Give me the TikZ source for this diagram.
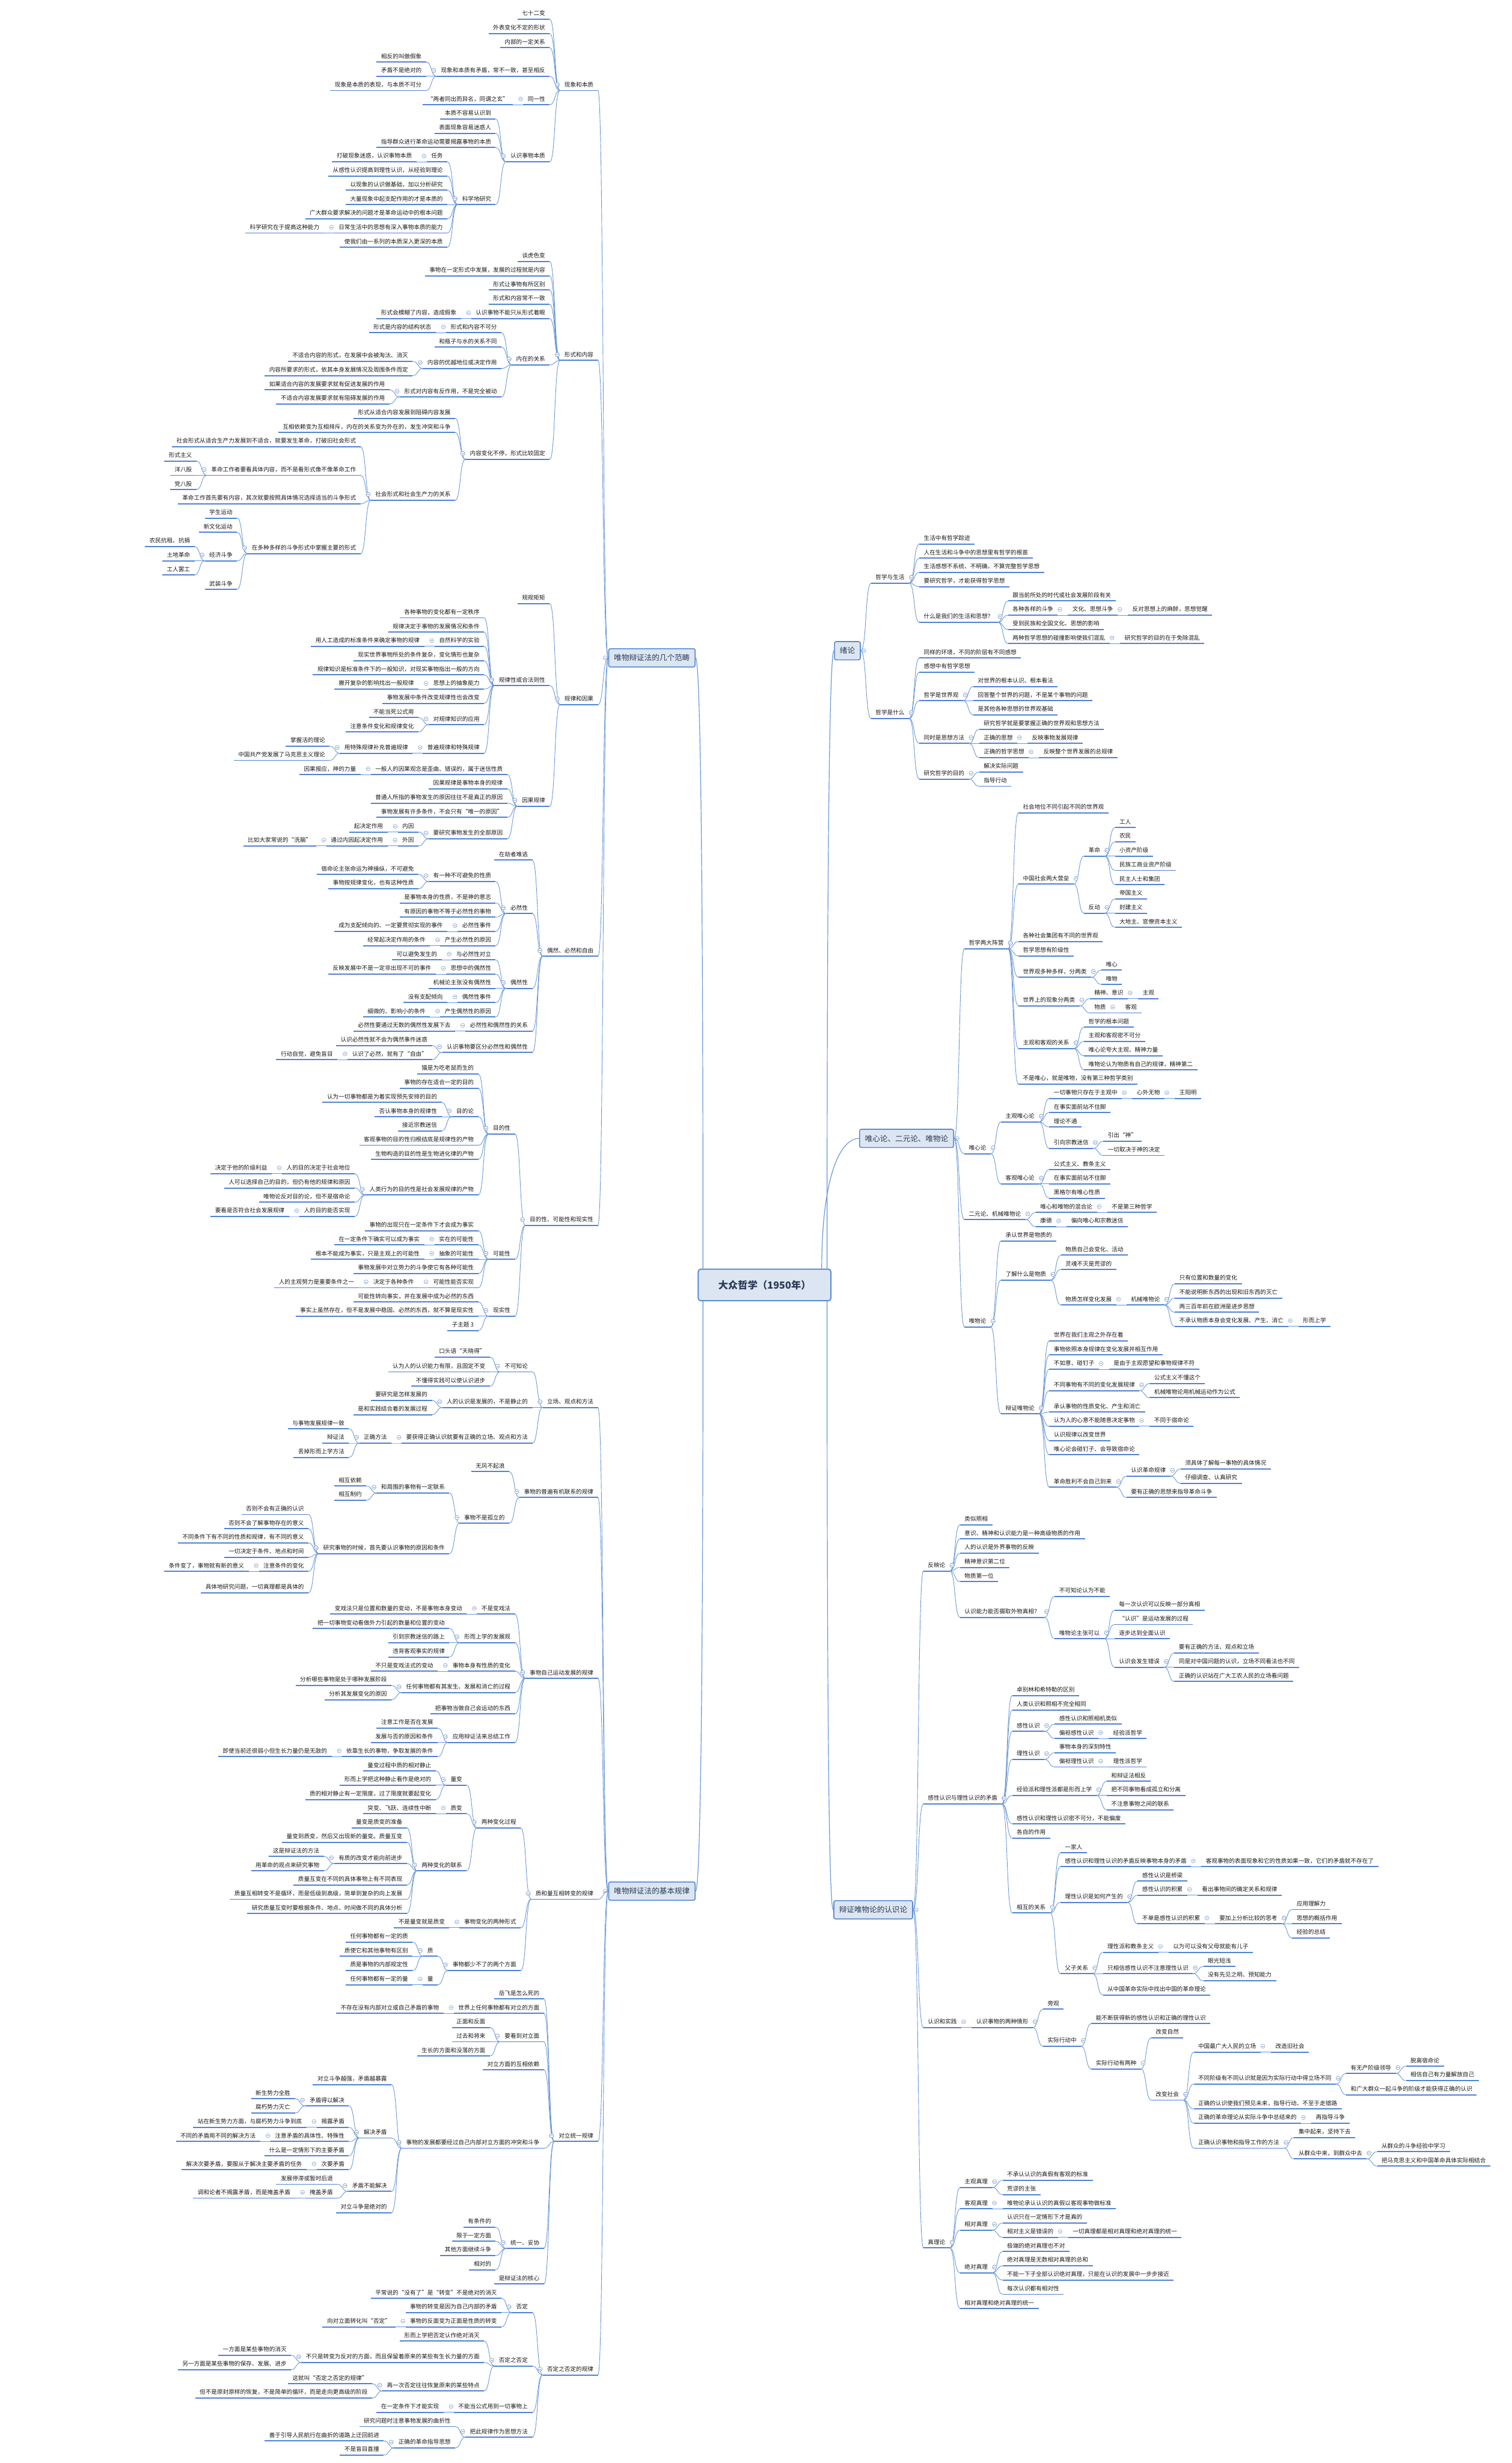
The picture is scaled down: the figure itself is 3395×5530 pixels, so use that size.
\documentclass[tikz,border=0pt]{standalone}
\usepackage{fontspec}
\setmainfont{Noto Sans CJK SC}
\definecolor{ulc}{HTML}{4F82D2}
\definecolor{cnc}{HTML}{6A97D8}
\definecolor{bxf}{HTML}{DCE6F2}
\definecolor{bxd}{HTML}{5B8BD0}
\definecolor{mkc}{HTML}{8AA8D0}
\definecolor{txc}{HTML}{1A1A1A}
\definecolor{bxt}{HTML}{2A3A55}
\newcommand\gp{23pt}
\newcommand\cg{13}
\newcounter{nn}
\tikzset{
 nd/.style={font=\fontsize{13}{15}\selectfont, text=txc, inner xsep=10pt, inner ysep=5pt, text height=11pt, text depth=3pt},
 ul/.style={line width=2.6pt, color=ulc},
 cn/.style={line width=1.2pt, color=cnc},
 cnb/.style={line width=1.6pt, color=cnc},
 mk/.style={line width=0.9pt, color=mkc},
 topbox/.style={draw=bxd, fill=bxf, line width=2.2pt, rounded corners=4pt, font=\fontsize{17}{20}\selectfont, text=bxt, inner xsep=12pt, minimum height=41pt},
 cbox/.style={draw=bxd, fill=bxf, line width=2.6pt, rounded corners=6pt, font=\fontsize{22}{26}\selectfont\bfseries, text=bxt, minimum width=298pt, minimum height=71pt},
 hub/.style={inner sep=0pt, outer sep=0pt, minimum size=0pt}
}
% left side: child east end placed gap left of parent's underline start
\newcommand\mlB[4]{%
 \node[nd,anchor=east,xshift=-\gp] (#1) at (#2.south west |- 0,#3) {#4};
 \draw[ul] (#1.south west) -- (#1.south east);
 \draw[cn] (#2.south west) .. controls +(-\cg,0) and +(\cg,0) .. (#1.south east);}
\newcommand\mlN[4]{%
 \mlB{#1}{#2}{#3}{#4}%
 \draw[mk,fill=white] ([xshift=-6pt,yshift=13pt]#2.south west) circle[radius=4.5pt];
 \draw[mk] ([xshift=-8.5pt,yshift=13pt]#2.south west) -- ++(5,0);}
\newcommand\mlL[3]{\stepcounter{nn}\edef\mmname{n\arabic{nn}}\expandafter\mlN\expandafter{\mmname}{#1}{#2}{#3}}
% right side
\newcommand\mrB[4]{%
 \node[nd,anchor=west,xshift=\gp] (#1) at (#2.south east |- 0,#3) {#4};
 \draw[ul] (#1.south west) -- (#1.south east);
 \draw[cn] (#2.south east) .. controls +(\cg,0) and +(-\cg,0) .. (#1.south west);}
\newcommand\mrN[4]{%
 \mrB{#1}{#2}{#3}{#4}%
 \draw[mk,fill=white] ([xshift=5pt,yshift=13pt]#2.south east) circle[radius=4.5pt];
 \draw[mk] ([xshift=2.5pt,yshift=13pt]#2.south east) -- ++(5,0);}
\newcommand\mrL[3]{\stepcounter{nn}\edef\mmname{n\arabic{nn}}\expandafter\mrN\expandafter{\mmname}{#1}{#2}{#3}}

\begin{document}
\begin{tikzpicture}[x=1pt,y=-1pt]
\fill[white] (0,0) rectangle (3395,5530);
\useasboundingbox (0,0) rectangle (3395,5530);

% ---------- central and first-level boxes ----------
\node[cbox] (C) at (1717,2885) {大众哲学（1950年）};
\node[topbox] (K) at (1464,1477) {唯物辩证法的几个范畴};
\node[topbox] (J) at (1464,4246) {唯物辩证法的基本规律};
\node[topbox] (X) at (1903,1461) {绪论};
\node[topbox] (W) at (2036,2556) {唯心论、二元论、唯物论};
\node[topbox] (R) at (1961,4288) {辩证唯物论的认识论};
\node[hub] (Kh) at (K.west) {};
\node[hub] (Jh) at (J.west) {};
\node[hub] (Xh) at (X.east) {};
\node[hub] (Wh) at (W.east) {};
\node[hub] (Rh) at (R.east) {};
\draw[cnb] ([xshift=12pt]C.north west) .. controls +(0,-1100) and +(8,0) .. (K.east);
\draw[cnb] ([xshift=12pt]C.south west) .. controls +(0,1060) and +(8,0) .. (J.east);
\draw[cnb] ([xshift=-10pt]C.north east) .. controls +(0,-1110) and +(-8,0) .. (X.west);
\draw[cnb] ([xshift=-22pt]C.north east) .. controls +(0,-200) and +(-45,0) .. (W.west);
\draw[cnb] ([xshift=-10pt]C.south east) .. controls +(0,1100) and +(-8,0) .. (R.west);
\foreach \b in {K,J} {\draw[mk,fill=white] ([xshift=-7pt]\b.west) circle[radius=4.5pt]; \draw[mk] ([xshift=-9.5pt]\b.west) -- ++(5,0);}
\foreach \b in {X,W,R} {\draw[mk,fill=white] ([xshift=7pt]\b.east) circle[radius=4.5pt]; \draw[mk] ([xshift=4.5pt]\b.east) -- ++(5,0);}

% ---------- 唯物辩证法的几个范畴 ----------
\mlB{k1}{Kh}{191}{现象和本质}
\mlL{k1}{31}{七十二变}
\mlL{k1}{63}{外表变化不定的形状}
\mlL{k1}{95}{内部的一定关系}
\mlN{k1d}{k1}{159}{现象和本质有矛盾，常不一致，甚至相反}
\mlL{k1d}{127}{相反的叫做假象}
\mlL{k1d}{159}{矛盾不是绝对的}
\mlL{k1d}{191}{现象是本质的表现，与本质不可分}
\mlN{k1e}{k1}{223}{同一性}
\mlL{k1e}{223}{“两者同出而异名，同谓之玄”}
\mlN{k1f}{k1}{351}{认识事物本质}
\mlL{k1f}{255}{本质不容易认识到}
\mlL{k1f}{287}{表面现象容易迷惑人}
\mlL{k1f}{319}{指导群众进行革命运动需要揭露事物的本质}
\mlN{k1g}{k1f}{447}{科学地研究}
\mlN{k1g1}{k1g}{351}{任务}
\mlL{k1g1}{351}{打破现象迷惑，认识事物本质}
\mlL{k1g}{383}{从感性认识提高到理性认识，从经验到理论}
\mlL{k1g}{415}{以现象的认识做基础，加以分析研究}
\mlL{k1g}{447}{大量现象中起支配作用的才是本质的}
\mlL{k1g}{479}{广大群众要求解决的问题才是革命运动中的根本问题}
\mlN{k1g6}{k1g}{511}{日常生活中的思想有深入事物本质的能力}
\mlL{k1g6}{511}{科学研究在于提高这种能力}
\mlL{k1g}{543}{使我们由一系列的本质深入更深的本质}

\mlB{k2}{Kh}{797}{形式和内容}
\mlL{k2}{575}{谈虎色变}
\mlL{k2}{607}{事物在一定形式中发展，发展的过程就是内容}
\mlL{k2}{639}{形式让事物有所区别}
\mlL{k2}{671}{形式和内容常不一致}
\mlN{k2e}{k2}{703}{认识事物不能只从形式着眼}
\mlL{k2e}{703}{形式会模糊了内容，造成假象}
\mlN{k2f}{k2}{807}{内在的关系}
\mlN{k2f1}{k2f}{735}{形式和内容不可分}
\mlL{k2f1}{735}{形式是内容的结构状态}
\mlL{k2f}{767}{和瓶子与水的关系不同}
\mlN{k2f3}{k2f}{815}{内容的优越地位或决定作用}
\mlL{k2f3}{799}{不适合内容的形式，在发展中会被淘汰、消灭}
\mlL{k2f3}{831}{内容所要求的形式，依其本身发展情况及周围条件而定}
\mlN{k2f4}{k2f}{879}{形式对内容有反作用，不是完全被动}
\mlL{k2f4}{863}{如果适合内容的发展要求就有促进发展的作用}
\mlL{k2f4}{895}{不适合内容发展要求就有阻碍发展的作用}
\mlN{k2g}{k2}{1019}{内容变化不停，形式比较固定}
\mlL{k2g}{927}{形式从适合内容发展到阻碍内容发展}
\mlL{k2g}{959}{互相依赖变为互相排斥，内在的关系变为外在的，发生冲突和斗争}
\mlN{k2h}{k2g}{1111}{社会形式和社会生产力的关系}
\mlL{k2h}{991}{社会形式从适合生产力发展到不适合，就要发生革命，打破旧社会形式}
\mlN{k2h2}{k2h}{1055}{革命工作者要看具体内容，而不是看形式像不像革命工作}
\mlL{k2h2}{1023}{形式主义}
\mlL{k2h2}{1055}{洋八股}
\mlL{k2h2}{1087}{党八股}
\mlL{k2h}{1119}{革命工作首先要有内容，其次就要按照具体情况选择适当的斗争形式}
\mlN{k2h4}{k2h}{1231}{在多种多样的斗争形式中掌握主要的形式}
\mlL{k2h4}{1151}{学生运动}
\mlL{k2h4}{1183}{新文化运动}
\mlN{k2h4c}{k2h4}{1247}{经济斗争}
\mlL{k2h4c}{1215}{农民抗租、抗捐}
\mlL{k2h4c}{1247}{土地革命}
\mlL{k2h4c}{1279}{工人罢工}
\mlL{k2h4}{1311}{武装斗争}

\mlB{k3}{Kh}{1570}{规律和因果}
\mlL{k3}{1343}{规规矩矩}
\mlN{k3b}{k3}{1527}{规律性或合法则性}
\mlL{k3b}{1375}{各种事物的变化都有一定秩序}
\mlL{k3b}{1407}{规律决定于事物的发展情况和条件}
\mlN{k3b3}{k3b}{1439}{自然科学的实验}
\mlL{k3b3}{1439}{用人工造成的标准条件来确定事物的规律}
\mlL{k3b}{1471}{现实世界事物所处的条件复杂，变化情形也复杂}
\mlL{k3b}{1503}{规律知识是标准条件下的一般知识，对现实事物指出一般的方向}
\mlN{k3b6}{k3b}{1535}{思想上的抽象能力}
\mlL{k3b6}{1535}{撇开复杂的影响找出一般规律}
\mlL{k3b}{1567}{事物发展中条件改变规律性也会改变}
\mlN{k3b8}{k3b}{1615}{对规律知识的应用}
\mlL{k3b8}{1599}{不能当死公式用}
\mlL{k3b8}{1631}{注意条件变化和规律变化}
\mlN{k3b9}{k3b}{1679}{普遍规律和特殊规律}
\mlN{k3b9a}{k3b9}{1679}{用特殊规律补充普遍规律}
\mlL{k3b9a}{1663}{掌握活的理论}
\mlL{k3b9a}{1695}{中国共产党发展了马克思主义理论}
\mlN{k3c}{k3}{1798}{因果规律}
\mlN{k3c1}{k3c}{1727}{一般人的因果观念是歪曲、错误的，属于迷信性质}
\mlL{k3c1}{1727}{因果报应，神的力量}
\mlL{k3c}{1759}{因果规律是事物本身的规律}
\mlL{k3c}{1791}{普通人所指的事物发生的原因往往不是真正的原因}
\mlL{k3c}{1823}{事物发展有许多条件，不会只有“唯一的原因”}
\mlN{k3c5}{k3c}{1871}{要研究事物发生的全部原因}
\mlN{k3c5a}{k3c5}{1856}{内因}
\mlL{k3c5a}{1856}{起决定作用}
\mlN{k3c5b}{k3c5}{1887}{外因}
\mlN{k3c5b1}{k3c5b}{1887}{通过内因起决定作用}
\mlL{k3c5b1}{1887}{比如大家常说的“洗脑”}

\mlB{k4}{Kh}{2135}{偶然、必然和自由}
\mlL{k4}{1919}{在劫者难逃}
\mlN{k4b}{k4}{2039}{必然性}
\mlN{k4b1}{k4b}{1967}{有一种不可避免的性质}
\mlL{k4b1}{1951}{宿命论主张命运为神操纵，不可避免}
\mlL{k4b1}{1983}{事物按规律变化，也有这种性质}
\mlL{k4b}{2015}{是事物本身的性质，不是神的意志}
\mlL{k4b}{2047}{有原因的事物不等于必然性的事物}
\mlN{k4b4}{k4b}{2079}{必然性事件}
\mlL{k4b4}{2079}{成为支配倾向的、一定要贯彻实现的事件}
\mlN{k4b5}{k4b}{2111}{产生必然性的原因}
\mlL{k4b5}{2111}{经常起决定作用的条件}
\mlN{k4c}{k4}{2207}{偶然性}
\mlN{k4c1}{k4c}{2143}{与必然性对立}
\mlL{k4c1}{2143}{可以避免发生的}
\mlN{k4c2}{k4c}{2175}{思想中的偶然性}
\mlL{k4c2}{2175}{反映发展中不是一定非出现不可的事件}
\mlL{k4c}{2207}{机械论主张没有偶然性}
\mlN{k4c4}{k4c}{2239}{偶然性事件}
\mlL{k4c4}{2239}{没有支配倾向}
\mlN{k4c5}{k4c}{2271}{产生偶然性的原因}
\mlL{k4c5}{2271}{细微的、影响小的条件}
\mlN{k4d}{k4}{2303}{必然性和偶然性的关系}
\mlL{k4d}{2303}{必然性要通过无数的偶然性发展下去}
\mlN{k4e}{k4}{2351}{认识事物要区分必然性和偶然性}
\mlL{k4e}{2335}{认识必然性就不会为偶然事件迷惑}
\mlN{k4e2}{k4e}{2367}{认识了必然，就有了“自由”}
\mlL{k4e2}{2367}{行动自觉，避免盲目}

\mlB{k5}{Kh}{2739}{目的性、可能性和现实性}
\mlN{k5a}{k5}{2534}{目的性}
\mlL{k5a}{2399}{猫是为吃老鼠而生的}
\mlL{k5a}{2431}{事物的存在适合一定的目的}
\mlN{k5a3}{k5a}{2495}{目的论}
\mlL{k5a3}{2463}{认为一切事物都是为着实现预先安排的目的}
\mlL{k5a3}{2495}{否认事物本身的规律性}
\mlL{k5a3}{2527}{接近宗教迷信}
\mlL{k5a}{2559}{客观事物的目的性归根结底是规律性的产物}
\mlL{k5a}{2591}{生物构造的目的性是生物进化律的产物}
\mlN{k5a6}{k5a}{2671}{人类行为的目的性是社会发展规律的产物}
\mlN{k5a6a}{k5a6}{2623}{人的目的决定于社会地位}
\mlL{k5a6a}{2623}{决定于他的阶级利益}
\mlL{k5a6}{2655}{人可以选择自己的目的，但仍有他的规律和原因}
\mlL{k5a6}{2687}{唯物论反对目的论，但不是宿命论}
\mlN{k5a6d}{k5a6}{2719}{人的目的能否实现}
\mlL{k5a6d}{2719}{要看是否符合社会发展规律}
\mlN{k5b}{k5}{2815}{可能性}
\mlL{k5b}{2751}{事物的出现只在一定条件下才会成为事实}
\mlN{k5b2}{k5b}{2783}{实在的可能性}
\mlL{k5b2}{2783}{在一定条件下确实可以成为事实}
\mlN{k5b3}{k5b}{2815}{抽象的可能性}
\mlL{k5b3}{2815}{根本不能成为事实，只是主观上的可能性}
\mlL{k5b}{2847}{事物发展中对立势力的斗争使它有各种可能性}
\mlN{k5b5}{k5b}{2879}{可能性能否实现}
\mlN{k5b5a}{k5b5}{2879}{决定于各种条件}
\mlL{k5b5a}{2879}{人的主观努力是重要条件之一}
\mlN{k5c}{k5}{2943}{现实性}
\mlL{k5c}{2911}{可能性转向事实，并在发展中成为必然的东西}
\mlL{k5c}{2943}{事实上虽然存在，但不是发展中稳固、必然的东西，就不算是现实性}
\mlL{k5c}{2975}{子主题 3}

% ---------- 唯物辩证法的基本规律 ----------
\mlB{j1}{Jh}{3148}{立场、观点和方法}
\mlN{j1a}{j1}{3068}{不可知论}
\mlL{j1a}{3035}{口头语“天晓得”}
\mlL{j1a}{3068}{认为人的认识能力有限，且固定不变}
\mlL{j1a}{3100}{不懂得实践可以使认识进步}
\mlN{j1b}{j1}{3148}{人的认识是发展的，不是静止的}
\mlL{j1b}{3132}{要研究是怎样发展的}
\mlL{j1b}{3164}{是和实践结合着的发展过程}
\mlN{j1c}{j1}{3228}{要获得正确认识就要有正确的立场、观点和方法}
\mlN{j1c1}{j1c}{3228}{正确方法}
\mlL{j1c1}{3196}{与事物发展规律一致}
\mlL{j1c1}{3228}{辩证法}
\mlL{j1c1}{3260}{丢掉形而上学方法}

\mlB{j2}{Jh}{3350}{事物的普遍有机联系的规律}
\mlL{j2}{3292}{无风不起浪}
\mlN{j2b}{j2}{3408}{事物不是孤立的}
\mlN{j2b1}{j2b}{3340}{和周围的事物有一定联系}
\mlL{j2b1}{3324}{相互依赖}
\mlL{j2b1}{3356}{相互制约}
\mlN{j2b2}{j2b}{3476}{研究事物的时候，首先要认识事物的原因和条件}
\mlL{j2b2}{3388}{否则不会有正确的认识}
\mlL{j2b2}{3420}{否则不会了解事物存在的意义}
\mlL{j2b2}{3452}{不同条件下有不同的性质和规律，有不同的意义}
\mlL{j2b2}{3484}{一切决定于条件、地点和时间}
\mlN{j2b2e}{j2b2}{3516}{注意条件的变化}
\mlL{j2b2e}{3516}{条件变了，事物就有新的意义}
\mlL{j2b2}{3564}{具体地研究问题，一切真理都是具体的}

\mlB{j3}{Jh}{3756}{事物自己运动发展的规律}
\mlN{j3a}{j3}{3612}{不是变戏法}
\mlL{j3a}{3612}{变戏法只是位置和数量的变动，不是事物本身变动}
\mlN{j3b}{j3}{3676}{形而上学的发展观}
\mlL{j3b}{3644}{把一切事物变动看做外力引起的数量和位置的变动}
\mlL{j3b}{3676}{引到宗教迷信的路上}
\mlL{j3b}{3708}{违背客观事实的规律}
\mlN{j3c}{j3}{3740}{事物本身有性质的变化}
\mlL{j3c}{3740}{不只是变戏法式的变动}
\mlN{j3d}{j3}{3788}{任何事物都有其发生、发展和消亡的过程}
\mlL{j3d}{3772}{分析哪些事物是处于哪种发展阶段}
\mlL{j3d}{3804}{分析其发展变化的原因}
\mlL{j3}{3836}{把事物当做自己会运动的东西}
\mlN{j3f}{j3}{3900}{应用辩证法来总结工作}
\mlL{j3f}{3868}{注意工作是否在发展}
\mlL{j3f}{3900}{发展与否的原因和条件}
\mlN{j3f3}{j3f}{3932}{依靠生长的事物，争取发展的条件}
\mlL{j3f3}{3932}{即使当前还很弱小但生长力量仍是无敌的}

\mlB{j4}{Jh}{4252}{质和量互相转变的规律}
\mlN{j4a}{j4}{4092}{两种变化过程}
\mlN{j4a1}{j4a}{3996}{量变}
\mlL{j4a1}{3964}{量变过程中质的相对静止}
\mlL{j4a1}{3996}{形而上学把这种静止看作是绝对的}
\mlL{j4a1}{4028}{质的相对静止有一定限度，过了限度就要起变化}
\mlN{j4a2}{j4a}{4060}{质变}
\mlL{j4a2}{4060}{突变、飞跃、连续性中断}
\mlN{j4a3}{j4a}{4188}{两种变化的联系}
\mlL{j4a3}{4092}{量变是质变的准备}
\mlL{j4a3}{4124}{量变到质变，然后又出现新的量变。质量互变}
\mlN{j4a3c}{j4a3}{4172}{有质的改变才能向前进步}
\mlL{j4a3c}{4156}{这是辩证法的方法}
\mlL{j4a3c}{4188}{用革命的观点来研究事物}
\mlL{j4a3}{4220}{质量互变在不同的具体事物上有不同表现}
\mlL{j4a3}{4252}{质量互相转变不是循环，而是低级到高级，简单到复杂的向上发展}
\mlL{j4a3}{4284}{研究质量互变时要根据条件、地点、时间做不同的具体分析}
\mlN{j4b}{j4}{4316}{事物变化的两种形式}
\mlL{j4b}{4316}{不是量变就是质变}
\mlN{j4c}{j4}{4412}{事物都少不了的两个方面}
\mlN{j4c1}{j4c}{4380}{质}
\mlL{j4c1}{4348}{任何事物都有一定的质}
\mlL{j4c1}{4380}{质使它和其他事物有区别}
\mlL{j4c1}{4412}{质是事物的内部规定性}
\mlN{j4c2}{j4c}{4444}{量}
\mlL{j4c2}{4444}{任何事物都有一定的量}

\mlB{j5}{Jh}{4796}{对立统一规律}
\mlL{j5}{4476}{岳飞是怎么死的}
\mlN{j5b}{j5}{4508}{世界上任何事物都有对立的方面}
\mlL{j5b}{4508}{不存在没有内部对立或自己矛盾的事物}
\mlN{j5c}{j5}{4572}{要看到对立面}
\mlL{j5c}{4540}{正面和反面}
\mlL{j5c}{4572}{过去和将来}
\mlL{j5c}{4604}{生长的方面和没落的方面}
\mlL{j5}{4635}{对立方面的互相依赖}
\mlN{j5e}{j5}{4811}{事物的发展都要经过自己内部对立方面的冲突和斗争}
\mlL{j5e}{4668}{对立斗争越强，矛盾越暴露}
\mlN{j5e2}{j5e}{4788}{解决矛盾}
\mlN{j5e2a}{j5e2}{4716}{矛盾得以解决}
\mlL{j5e2a}{4700}{新生势力全胜}
\mlL{j5e2a}{4732}{腐朽势力灭亡}
\mlN{j5e2b}{j5e2}{4764}{揭露矛盾}
\mlL{j5e2b}{4764}{站在新生势力方面，与腐朽势力斗争到底}
\mlN{j5e2c}{j5e2}{4796}{注意矛盾的具体性、特殊性}
\mlL{j5e2c}{4796}{不同的矛盾用不同的解决方法}
\mlL{j5e2}{4828}{什么是一定情形下的主要矛盾}
\mlN{j5e2e}{j5e2}{4859}{次要矛盾}
\mlL{j5e2e}{4859}{解决次要矛盾，要服从于解决主要矛盾的任务}
\mlN{j5e3}{j5e}{4908}{矛盾不能解决}
\mlL{j5e3}{4892}{发展停滞或暂时后退}
\mlN{j5e3b}{j5e3}{4923}{掩盖矛盾}
\mlL{j5e3b}{4923}{调和论者不揭露矛盾，而是掩盖矛盾}
\mlL{j5e}{4956}{对立斗争是绝对的}
\mlN{j5f}{j5}{5036}{统一、妥协}
\mlL{j5f}{4988}{有条件的}
\mlL{j5f}{5020}{限于一定方面}
\mlL{j5f}{5052}{其他方面继续斗争}
\mlL{j5f}{5084}{相对的}
\mlL{j5}{5116}{是辩证法的核心}

\mlB{j6}{Jh}{5320}{否定之否定的规律}
\mlN{j6a}{j6}{5180}{否定}
\mlL{j6a}{5148}{平常说的“没有了”是“转变”不是绝对的消灭}
\mlL{j6a}{5180}{事物的转变是因为自己内部的矛盾}
\mlN{j6a3}{j6a}{5212}{事物的反面变为正面是性质的转变}
\mlL{j6a3}{5212}{向对立面转化叫“否定”}
\mlN{j6b}{j6}{5300}{否定之否定}
\mlL{j6b}{5244}{形而上学把否定认作绝对消灭}
\mlN{j6b2}{j6b}{5292}{不只是转变为反对的方面，而且保留着原来的某些有生长力量的方面}
\mlL{j6b2}{5276}{一方面是某些事物的消灭}
\mlL{j6b2}{5308}{另一方面是某些事物的保存、发展、进步}
\mlN{j6b3}{j6b}{5356}{再一次否定往往恢复原来的某些特点}
\mlL{j6b3}{5340}{这就叫“否定之否定的规律”}
\mlL{j6b3}{5372}{但不是原封原样的恢复，不是简单的循环，而是走向更高级的阶段}
\mlN{j6c}{j6}{5404}{不能当公式用到一切事物上}
\mlL{j6c}{5404}{在一定条件下才能实现}
\mlN{j6d}{j6}{5460}{把此规律作为思想方法}
\mlL{j6d}{5436}{研究问题时注意事物发展的曲折性}
\mlN{j6d2}{j6d}{5484}{正确的革命指导思想}
\mlL{j6d2}{5468}{善于引导人民航行在曲折的道路上迂回前进}
\mlL{j6d2}{5500}{不是盲目直撞}

% ---------- 绪论 ----------
\mrB{x1}{Xh}{1297}{哲学与生活}
\mrL{x1}{1209}{生活中有哲学踪迹}
\mrL{x1}{1241}{人在生活和斗争中的思想里有哲学的根苗}
\mrL{x1}{1273}{生活感想不系统、不明确，不算完整哲学思想}
\mrL{x1}{1305}{要研究哲学，才能获得哲学思想}
\mrN{x1e}{x1}{1385}{什么是我们的生活和思想？}
\mrL{x1e}{1337}{跟当前所处的时代或社会发展阶段有关}
\mrN{x1e2}{x1e}{1369}{各种各样的斗争}
\mrN{x1e2a}{x1e2}{1369}{文化、思想斗争}
\mrL{x1e2a}{1369}{反对思想上的麻醉，思想觉醒}
\mrL{x1e}{1401}{受到民族和全国文化、思想的影响}
\mrN{x1e4}{x1e}{1433}{两种哲学思想的碰撞影响使我们混乱}
\mrL{x1e4}{1433}{研究哲学的目的在于免除混乱}
\mrB{x2}{Xh}{1601}{哲学是什么}
\mrL{x2}{1465}{同样的环境，不同的阶层有不同感想}
\mrL{x2}{1497}{感想中有哲学思想}
\mrN{x2c}{x2}{1561}{哲学是世界观}
\mrL{x2c}{1529}{对世界的根本认识、根本看法}
\mrL{x2c}{1561}{回答整个世界的问题，不是某个事物的问题}
\mrL{x2c}{1593}{是其他各种思想的世界观基础}
\mrN{x2d}{x2}{1657}{同时是思想方法}
\mrL{x2d}{1625}{研究哲学就是要掌握正确的世界观和思想方法}
\mrN{x2d2}{x2d}{1657}{正确的思想}
\mrL{x2d2}{1657}{反映事物发展规律}
\mrN{x2d3}{x2d}{1689}{正确的哲学思想}
\mrL{x2d3}{1689}{反映整个世界发展的总规律}
\mrN{x2e}{x2}{1737}{研究哲学的目的}
\mrL{x2e}{1721}{解决实际问题}
\mrL{x2e}{1753}{指导行动}

% ---------- 唯心论、二元论、唯物论 ----------
\mrB{w1}{Wh}{2118}{哲学两大阵营}
\mrL{w1}{1813}{社会地位不同引起不同的世界观}
\mrN{w1b}{w1}{1973}{中国社会两大营垒}
\mrN{w1b1}{w1b}{1910}{革命}
\mrL{w1b1}{1846}{工人}
\mrL{w1b1}{1878}{农民}
\mrL{w1b1}{1910}{小资产阶级}
\mrL{w1b1}{1942}{民族工商业资产阶级}
\mrL{w1b1}{1974}{民主人士和集团}
\mrN{w1b2}{w1b}{2038}{反动}
\mrL{w1b2}{2006}{帝国主义}
\mrL{w1b2}{2038}{封建主义}
\mrL{w1b2}{2070}{大地主、官僚资本主义}
\mrL{w1}{2102}{各种社会集团有不同的世界观}
\mrL{w1}{2134}{哲学思想有阶级性}
\mrN{w1e}{w1}{2182}{世界观多种多样，分两类}
\mrL{w1e}{2166}{唯心}
\mrL{w1e}{2198}{唯物}
\mrN{w1f}{w1}{2246}{世界上的现象分两类}
\mrN{w1f1}{w1f}{2230}{精神、意识}
\mrL{w1f1}{2230}{主观}
\mrN{w1f2}{w1f}{2262}{物质}
\mrL{w1f2}{2262}{客观}
\mrN{w1g}{w1}{2342}{主观和客观的关系}
\mrL{w1g}{2294}{哲学的根本问题}
\mrL{w1g}{2326}{主观和客观密不可分}
\mrL{w1g}{2358}{唯心论夸大主观、精神力量}
\mrL{w1g}{2390}{唯物论认为物质有自己的规律，精神第二}
\mrL{w1}{2422}{不是唯心，就是唯物，没有第三种哲学类别}
\mrB{w2}{Wh}{2578}{唯心论}
\mrN{w2a}{w2}{2507}{主观唯心论}
\mrN{w2a1}{w2a}{2454}{一切事物只存在于主观中}
\mrN{w2a1a}{w2a1}{2454}{心外无物}
\mrL{w2a1a}{2454}{王阳明}
\mrL{w2a}{2486}{在事实面前站不住脚}
\mrL{w2a}{2518}{理论不通}
\mrN{w2a4}{w2a}{2566}{引向宗教迷信}
\mrL{w2a4}{2550}{引出“神”}
\mrL{w2a4}{2582}{一切取决于神的决定}
\mrN{w2b}{w2}{2646}{客观唯心论}
\mrL{w2b}{2614}{公式主义、教条主义}
\mrL{w2b}{2646}{在事实面前站不住脚}
\mrL{w2b}{2678}{黑格尔有唯心性质}
\mrB{w3}{Wh}{2726}{二元论、机械唯物论}
\mrN{w3a}{w3}{2710}{唯心和唯物的混合论}
\mrL{w3a}{2710}{不是第三种哲学}
\mrN{w3b}{w3}{2742}{康德}
\mrL{w3b}{2742}{偏向唯心和宗教迷信}
\mrB{w4}{Wh}{2967}{唯物论}
\mrL{w4}{2774}{承认世界是物质的}
\mrN{w4b}{w4}{2862}{了解什么是物质}
\mrL{w4b}{2806}{物质自己会变化、活动}
\mrL{w4b}{2838}{灵魂不灭是荒谬的}
\mrN{w4b3}{w4b}{2918}{物质怎样变化发展}
\mrN{w4b3a}{w4b3}{2918}{机械唯物论}
\mrL{w4b3a}{2870}{只有位置和数量的变化}
\mrL{w4b3a}{2902}{不能说明新东西的出现和旧东西的灭亡}
\mrL{w4b3a}{2934}{两三百年前在欧洲是进步思想}
\mrN{w4b3a4}{w4b3a}{2966}{不承认物质本身会变化发展、产生、消亡}
\mrL{w4b3a4}{2966}{形而上学}
\mrN{w4c}{w4}{3162}{辩证唯物论}
\mrL{w4c}{2998}{世界在我们主观之外存在着}
\mrL{w4c}{3030}{事物依照本身规律在变化发展并相互作用}
\mrN{w4c3}{w4c}{3062}{不如意、碰钉子}
\mrL{w4c3}{3062}{是由于主观愿望和事物规律不符}
\mrN{w4c4}{w4c}{3110}{不同事物有不同的变化发展规律}
\mrL{w4c4}{3094}{公式主义不懂这个}
\mrL{w4c4}{3126}{机械唯物论用机械运动作为公式}
\mrL{w4c}{3158}{承认事物的性质变化、产生和消亡}
\mrN{w4c6}{w4c}{3190}{认为人的心意不能随意决定事物}
\mrL{w4c6}{3190}{不同于宿命论}
\mrL{w4c}{3222}{认识规律以改变世界}
\mrL{w4c}{3254}{唯心论会碰钉子、会导致宿命论}
\mrN{w4c9}{w4c}{3327}{革命胜利不会自己到来}
\mrN{w4c9a}{w4c9}{3302}{认识革命规律}
\mrL{w4c9a}{3286}{须具体了解每一事物的具体情况}
\mrL{w4c9a}{3318}{仔细调查、认真研究}
\mrL{w4c9}{3350}{要有正确的思想来指导革命斗争}

% ---------- 辩证唯物论的认识论 ----------
\mrB{r1}{Rh}{3515}{反映论}
\mrL{r1}{3411}{类似照相}
\mrL{r1}{3443}{意识、精神和认识能力是一种高级物质的作用}
\mrL{r1}{3475}{人的认识是外界事物的反映}
\mrL{r1}{3507}{精神意识第二位}
\mrL{r1}{3539}{物质第一位}
\mrN{r1f}{r1}{3619}{认识能力能否摄取外物真相？}
\mrL{r1f}{3572}{不可知论认为不能}
\mrN{r1f2}{r1f}{3667}{唯物论主张可以}
\mrL{r1f2}{3603}{每一次认识可以反映一部分真相}
\mrL{r1f2}{3635}{“认识”是运动发展的过程}
\mrL{r1f2}{3667}{逐步达到全面认识}
\mrN{r1f2d}{r1f2}{3731}{认识会发生错误}
\mrL{r1f2d}{3699}{要有正确的方法、观点和立场}
\mrL{r1f2d}{3731}{同是对中国问题的认识，立场不同看法也不同}
\mrL{r1f2d}{3763}{正确的认识站在广大工农人民的立场看问题}
\mrB{r2}{Rh}{4038}{感性认识与理性认识的矛盾}
\mrL{r2}{3795}{卓别林和希特勒的区别}
\mrL{r2}{3827}{人类认识和照相不完全相同}
\mrN{r2c}{r2}{3875}{感性认识}
\mrL{r2c}{3859}{感性认识和照相机类似}
\mrN{r2c2}{r2c}{3891}{偏袒感性认识}
\mrL{r2c2}{3891}{经验派哲学}
\mrN{r2d}{r2}{3938}{理性认识}
\mrL{r2d}{3923}{事物本身的深刻特性}
\mrN{r2d2}{r2d}{3955}{偏袒理性认识}
\mrL{r2d2}{3955}{理性派哲学}
\mrN{r2e}{r2}{4019}{经验派和理性派都是形而上学}
\mrL{r2e}{3987}{和辩证法相反}
\mrL{r2e}{4019}{把不同事物看成孤立和分离}
\mrL{r2e}{4051}{不注意事物之间的联系}
\mrL{r2}{4083}{感性认识和理性认识密不可分，不能偏废}
\mrL{r2}{4115}{各自的作用}
\mrN{r2h}{r2}{4283}{相互的关系}
\mrL{r2h}{4148}{一家人}
\mrN{r2h2}{r2h}{4179}{感性认识和理性认识的矛盾反映事物本身的矛盾}
\mrL{r2h2}{4179}{客观事物的表面现象和它的性质如果一致，它们的矛盾就不存在了}
\mrN{r2h3}{r2h}{4259}{理性认识是如何产生的}
\mrL{r2h3}{4211}{感性认识是桥梁}
\mrN{r2h3b}{r2h3}{4243}{感性认识的积累}
\mrL{r2h3b}{4243}{看出事物间的确定关系和规律}
\mrN{r2h3c}{r2h3}{4307}{不单是感性认识的积累}
\mrN{r2h3c1}{r2h3c}{4307}{要加上分析比较的思考}
\mrL{r2h3c1}{4275}{应用理解力}
\mrL{r2h3c1}{4307}{思想的概括作用}
\mrL{r2h3c1}{4339}{经验的总结}
\mrN{r2h4}{r2h}{4419}{父子关系}
\mrN{r2h4a}{r2h4}{4371}{理性派和教条主义}
\mrL{r2h4a}{4371}{以为可以没有父母就能有儿子}
\mrN{r2h4b}{r2h4}{4419}{只相信感性认识不注意理性认识}
\mrL{r2h4b}{4403}{眼光短浅}
\mrL{r2h4b}{4435}{没有先见之明、预知能力}
\mrL{r2h4}{4467}{从中国革命实际中找出中国的革命理论}
\mrB{r3}{Rh}{4540}{认识和实践}
\mrN{r3a}{r3}{4540}{认识事物的两种情形}
\mrL{r3a}{4499}{旁观}
\mrN{r3a2}{r3a}{4582}{实际行动中}
\mrL{r3a2}{4531}{能不断获得新的感性认识和正确的理性认识}
\mrN{r3b}{r3a2}{4633}{实际行动有两种}
\mrL{r3b}{4563}{改变自然}
\mrN{r3c}{r3b}{4703}{改变社会}
\mrN{r3c1}{r3c}{4595}{中国最广大人民的立场}
\mrL{r3c1}{4595}{改造旧社会}
\mrN{r3c2}{r3c}{4667}{不同阶级有不同认识就是因为实际行动中得立场不同}
\mrN{r3c2a}{r3c2}{4643}{有无产阶级领导}
\mrL{r3c2a}{4627}{脱离宿命论}
\mrL{r3c2a}{4659}{相信自己有力量解放自己}
\mrL{r3c2}{4691}{和广大群众一起斗争的阶级才能获得正确的认识}
\mrL{r3c}{4723}{正确的认识使我们预见未来，指导行动、不至于走错路}
\mrN{r3c4}{r3c}{4755}{正确的革命理论从实际斗争中总结来的}
\mrL{r3c4}{4755}{再指导斗争}
\mrN{r3c5}{r3c}{4811}{正确认识事物和指导工作的方法}
\mrL{r3c5}{4787}{集中起来，坚持下去}
\mrN{r3c5b}{r3c5}{4835}{从群众中来，到群众中去}
\mrL{r3c5b}{4819}{从群众的斗争经验中学习}
\mrL{r3c5b}{4851}{把马克思主义和中国革命具体实际相结合}
\mrB{r4}{Rh}{5035}{真理论}
\mrN{r4a}{r4}{4899}{主观真理}
\mrL{r4a}{4883}{不承认认识的真假有客观的标准}
\mrL{r4a}{4915}{荒谬的主张}
\mrN{r4b}{r4}{4947}{客观真理}
\mrL{r4b}{4947}{唯物论承认认识的真假以客观事物做标准}
\mrN{r4c}{r4}{4995}{相对真理}
\mrL{r4c}{4979}{认识只在一定情形下才是真的}
\mrN{r4c2}{r4c}{5011}{相对主义是错误的}
\mrL{r4c2}{5011}{一切真理都是相对真理和绝对真理的统一}
\mrN{r4d}{r4}{5091}{绝对真理}
\mrL{r4d}{5043}{极端的绝对真理也不对}
\mrL{r4d}{5075}{绝对真理是无数相对真理的总和}
\mrL{r4d}{5107}{不能一下子全部认识绝对真理，只能在认识的发展中一步步接近}
\mrL{r4d}{5139}{每次认识都有相对性}
\mrL{r4}{5171}{相对真理和绝对真理的统一}
\end{tikzpicture}
\end{document}
